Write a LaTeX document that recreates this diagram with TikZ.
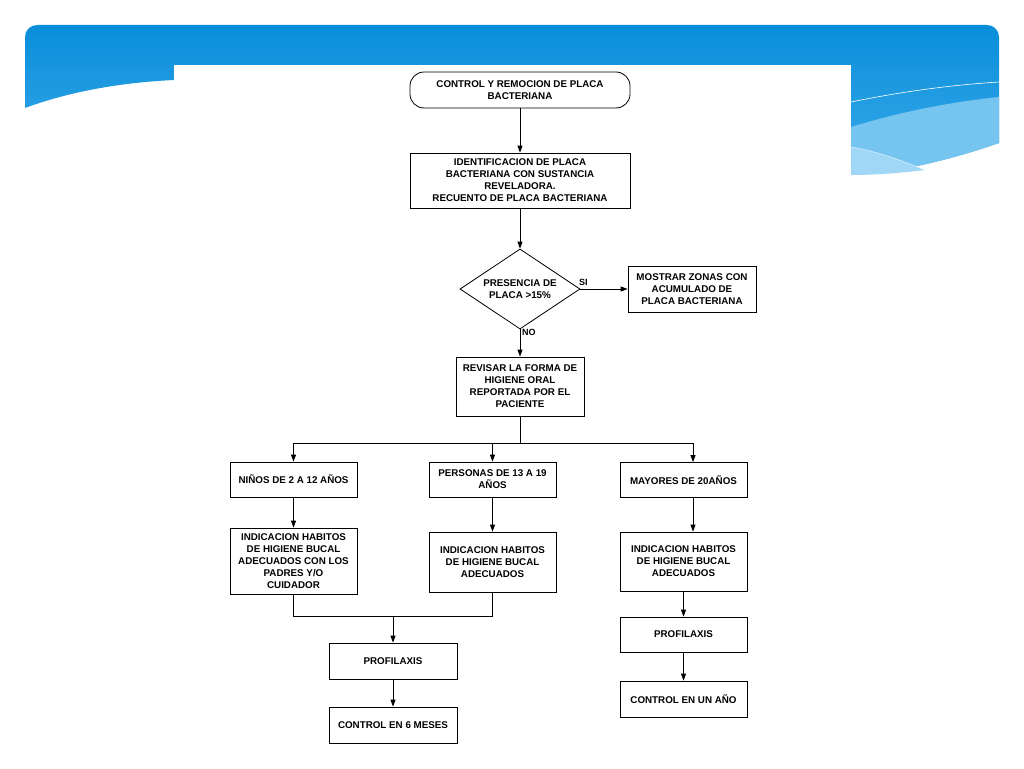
\documentclass[tikz,border=0pt]{standalone}
\usepackage{fontspec}
\setmainfont{Liberation Sans}
\usetikzlibrary{shapes.geometric,arrows.meta,calc}
\definecolor{bantop}{RGB}{10,142,218}
\definecolor{banbot}{RGB}{58,170,234}
\definecolor{banlight}{RGB}{118,196,240}
\definecolor{banlighter}{RGB}{160,214,246}
\begin{document}
\begin{tikzpicture}[x=1pt,y=-1pt,
  every node/.style={font=\bfseries\fontsize{9.8}{12}\selectfont, align=center, inner sep=1pt},
  box/.style={draw=black, line width=0.8pt, fill=white, rectangle},
  term/.style={box, rounded corners=14pt},
  deci/.style={draw=black, line width=0.8pt, fill=white, diamond, aspect=1.5, inner sep=0pt},
  conn/.style={draw=black, line width=0.8pt},
  arr/.style={conn, -{Triangle[length=7pt,width=5pt]}},
  lbl/.style={font=\bfseries\fontsize{9}{11}\selectfont, inner sep=0pt}]
\useasboundingbox (0,0) rectangle (1024,768);
\fill[white] (0,0) rectangle (1024,768);
% banner
\shade[top color=bantop, bottom color=banbot]
  (25,108) -- (25,37) arc[start angle=180,end angle=270,radius=12] -- (987,25)
  arc[start angle=270,end angle=360,radius=12] -- (999,143)
  .. controls (950,160) and (900,172) .. (851,175) -- (174,175) -- (174,80)
  .. controls (110,83) and (60,95) .. (25,108) -- cycle;
\fill[banlight] (851,127) .. controls (900,112) and (950,102) .. (999,97) -- (999,143)
  .. controls (950,160) and (900,172) .. (851,175) -- cycle;
\fill[banlighter] (851,147) .. controls (880,152) and (900,160) .. (925,170)
  .. controls (900,173) and (875,175) .. (851,175) -- cycle;
\draw[white, line width=0.6pt] (851,102) .. controls (900,92) and (950,85) .. (999,82);
\draw[white, line width=0.5pt, opacity=0.7] (851,147) .. controls (880,152) and (900,160) .. (925,170);
\fill[white] (174,65) rectangle (851,768);
% nodes
\node[term, minimum width=220pt, minimum height=36pt] (start) at (520,90) {CONTROL Y REMOCION DE PLACA\\BACTERIANA};
\node[box, minimum width=220pt, minimum height=55pt] (ident) at (520,180.5) {IDENTIFICACION DE PLACA\\BACTERIANA CON SUSTANCIA\\REVELADORA.\\RECUENTO DE PLACA BACTERIANA};
\node[deci, minimum width=120pt, minimum height=80pt] (dec) at (520,289) {PRESENCIA DE\\PLACA >15\%};
\node[box, minimum width=128pt, minimum height=46pt] (mostrar) at (692,289) {MOSTRAR ZONAS CON\\ACUMULADO DE\\PLACA BACTERIANA};
\node[box, minimum width=128pt, minimum height=59pt] (revisar) at (520,386.5) {REVISAR LA FORMA DE\\HIGIENE ORAL\\REPORTADA POR EL\\PACIENTE};
\node[box, minimum width=127pt, minimum height=35pt] (ninos) at (293.5,479.5) {NIÑOS DE 2 A 12 AÑOS};
\node[box, minimum width=127pt, minimum height=35pt] (personas) at (492.5,479.5) {PERSONAS DE 13 A 19\\AÑOS};
\node[box, minimum width=127pt, minimum height=35pt] (mayores) at (683.5,480) {MAYORES DE 20AÑOS};
\node[box, minimum width=127pt, minimum height=66pt] (ind1) at (293.5,561) {INDICACION HABITOS\\DE HIGIENE BUCAL\\ADECUADOS CON LOS\\PADRES Y/O\\CUIDADOR};
\node[box, minimum width=127pt, minimum height=60pt] (ind2) at (492.5,562) {INDICACION HABITOS\\DE HIGIENE BUCAL\\ADECUADOS};
\node[box, minimum width=127pt, minimum height=59pt] (ind3) at (683.5,561.5) {INDICACION HABITOS\\DE HIGIENE BUCAL\\ADECUADOS};
\node[box, minimum width=128pt, minimum height=36pt] (prof1) at (393,661) {PROFILAXIS};
\node[box, minimum width=128pt, minimum height=36pt] (ctrl6) at (393,725) {CONTROL EN 6 MESES};
\node[box, minimum width=127pt, minimum height=35pt] (prof2) at (683.5,634.5) {PROFILAXIS};
\node[box, minimum width=127pt, minimum height=36pt] (ctrl1) at (683.5,699) {CONTROL EN UN AÑO};
% connectors
\draw[arr] (start) -- (ident);
\draw[arr] (ident) -- (dec);
\draw[arr] (dec.east) -- (mostrar.west);
\node[lbl, anchor=south west] (si) at (579,286) {SI};
\draw[arr] (dec.south) -- (revisar.north);
\node[lbl, anchor=north west] (no) at (522,329) {NO};
\coordinate (br) at (520,443);
\coordinate (c3) at (693,443);
\coordinate (mg) at (393,616);
\draw[conn] (revisar.south) -- (br);
\draw[conn] (ninos.north |- br) -- (c3);
\draw[arr] (ninos.north |- br) -- (ninos.north);
\draw[arr] (personas.north |- br) -- (personas.north);
\draw[arr] (c3) -- (c3 |- mayores.north);
\draw[arr] (ninos) -- (ind1);
\draw[arr] (personas) -- (ind2);
\draw[arr] (c3 |- mayores.south) -- (c3 |- ind3.north);
\draw[conn] (ind1.south) -- (ind1.south |- mg) -- (ind2.south |- mg) -- (ind2.south);
\draw[arr] (mg) -- (prof1.north);
\draw[arr] (prof1) -- (ctrl6);
\draw[arr] (ind3) -- (prof2);
\draw[arr] (prof2) -- (ctrl1);
\end{tikzpicture}
\end{document}
